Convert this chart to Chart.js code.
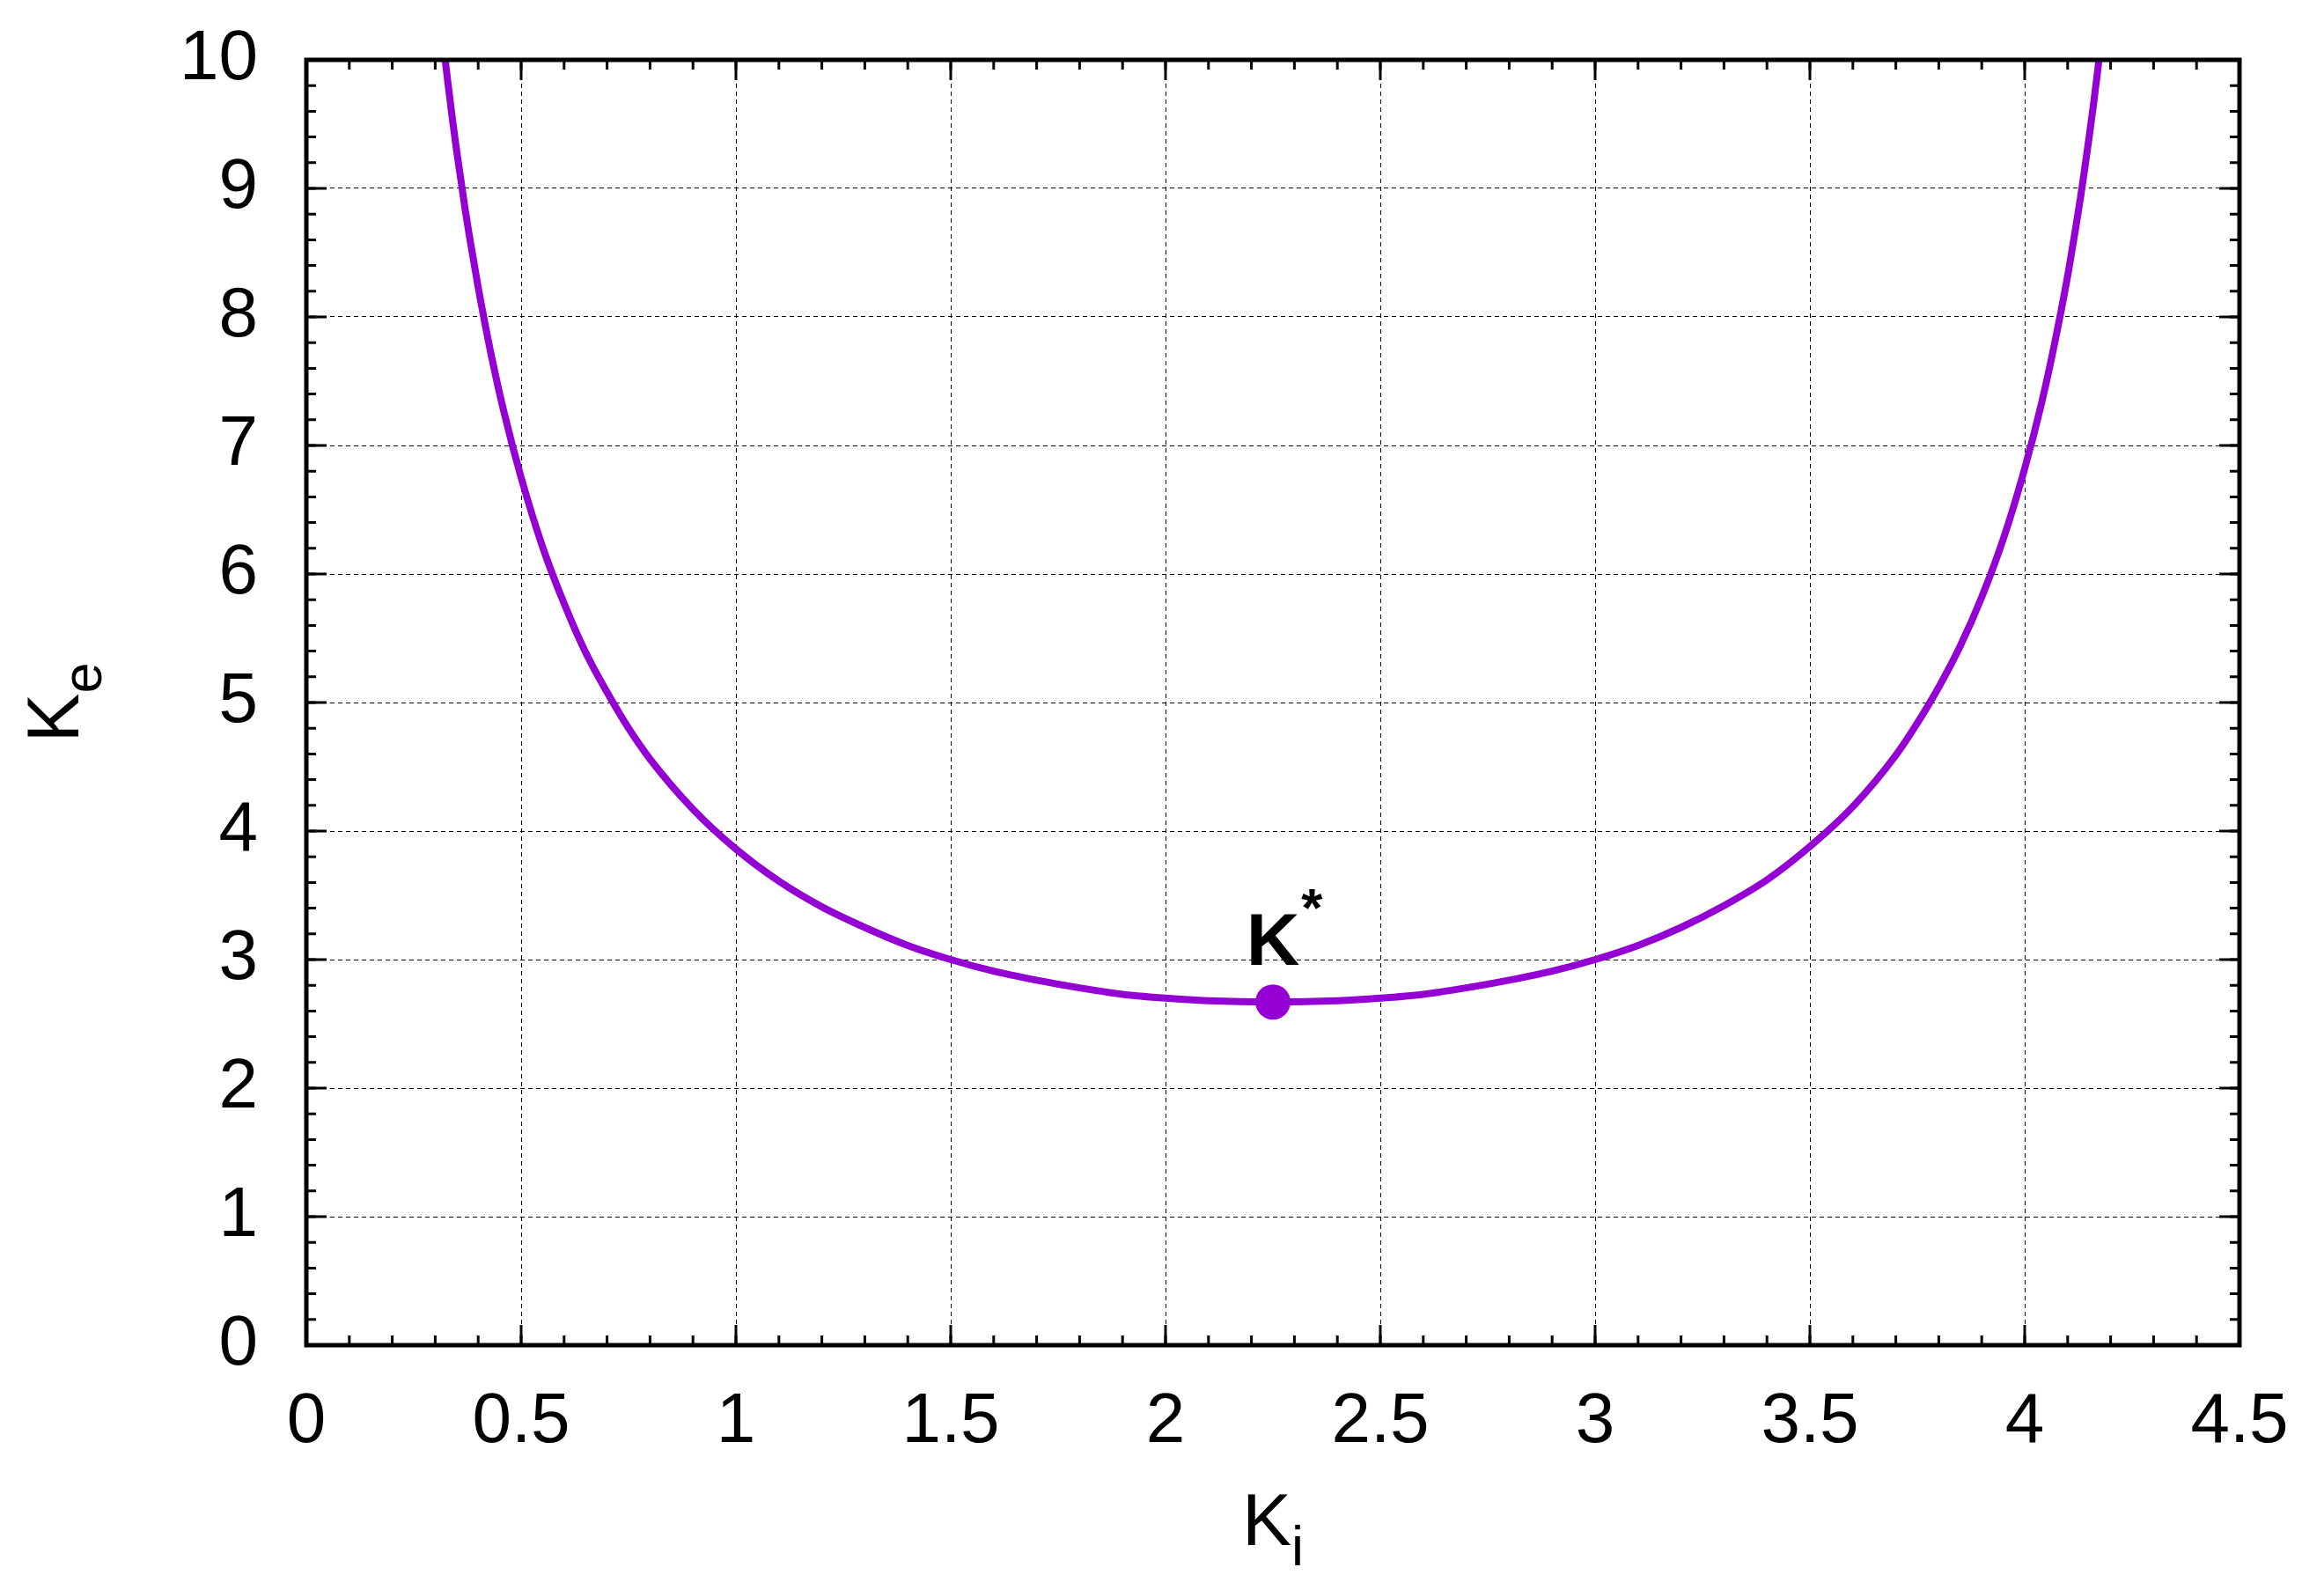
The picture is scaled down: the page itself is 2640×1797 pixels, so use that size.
<!DOCTYPE html>
<html>
<head>
<meta charset="utf-8">
<script src="https://cdn.jsdelivr.net/npm/chart.js@4.4.1/dist/chart.umd.min.js"></script>
<style>
html, body { margin: 0; padding: 0; background: #fff; }
#wrap { width: 2640px; height: 1797px; }
</style>
</head>
<body>
<div id="wrap"><canvas id="c" width="2640" height="1797"></canvas></div>
<script>
// ---- data ----
const kiValues = [0.31,0.32,0.33,0.34,0.35,0.36,0.37,0.38,0.40,0.43,0.46,0.50,0.55,0.60,0.65,0.70,0.75,0.80,0.90,1.00,1.10,1.20,1.30,1.40,1.50,1.60,1.70,1.80,1.90,2.00,2.10,2.25,2.40,2.50,2.60,2.70,2.80,2.90,3.00,3.10,3.20,3.30,3.40,3.50,3.60,3.70,3.75,3.80,3.85,3.90,3.95,4.00,4.04,4.07,4.10,4.12,4.13,4.14,4.15,4.16,4.17,4.18];
const keValues = [10.39,10.09,9.81,9.54,9.29,9.06,8.83,8.62,8.23,7.71,7.26,6.75,6.21,5.77,5.39,5.08,4.80,4.56,4.17,3.86,3.61,3.41,3.25,3.11,3.00,2.91,2.84,2.78,2.73,2.70,2.68,2.67,2.68,2.70,2.73,2.78,2.84,2.91,3.00,3.11,3.25,3.42,3.62,3.88,4.19,4.59,4.84,5.12,5.44,5.82,6.27,6.82,7.34,7.80,8.32,8.72,8.93,9.16,9.40,9.65,9.92,10.21];
const optimumKi = [2.25];
const optimumKe = [2.67];
const optimumLabel = ['K', '*'];
const xTickValues = [0, 0.5, 1, 1.5, 2, 2.5, 3, 3.5, 4, 4.5];
const yTickValues = [0, 1, 2, 3, 4, 5, 6, 7, 8, 9, 10];
const xMinorStep = 0.1;
const yMinorStep = 0.2;
const xTitle = ['K', 'i'];
const yTitle = ['K', 'e'];

const FONT = "'Liberation Sans', Arial, Helvetica, sans-serif";
const PURPLE = '#9400D3';

const framePlugin = {
  id: 'frameTicks',
  afterDatasetsDraw(chart) {
    const {ctx, chartArea: a, scales: {x, y}} = chart;
    ctx.save();
    ctx.strokeStyle = '#000';
    const drawXTick = (v, len) => {
      const px = x.getPixelForValue(v);
      ctx.beginPath();
      ctx.moveTo(px, a.bottom); ctx.lineTo(px, a.bottom - len);
      ctx.moveTo(px, a.top); ctx.lineTo(px, a.top + len);
      ctx.stroke();
    };
    const drawYTick = (v, len) => {
      const py = y.getPixelForValue(v);
      ctx.beginPath();
      ctx.moveTo(a.left, py); ctx.lineTo(a.left + len, py);
      ctx.moveTo(a.right, py); ctx.lineTo(a.right - len, py);
      ctx.stroke();
    };
    ctx.lineWidth = 3;
    const xMinN = Math.round((x.max - x.min) / xMinorStep);
    for (let i = 0; i <= xMinN; i++) drawXTick(x.min + i * xMinorStep, 11);
    const yMinN = Math.round((y.max - y.min) / yMinorStep);
    for (let i = 0; i <= yMinN; i++) drawYTick(y.min + i * yMinorStep, 11);
    xTickValues.forEach(v => drawXTick(v, 23));
    yTickValues.forEach(v => drawYTick(v, 23));
    ctx.lineWidth = 5;
    ctx.strokeRect(a.left, a.top, a.right - a.left, a.bottom - a.top);
    ctx.restore();
  },
  afterDraw(chart) {
    const {ctx, chartArea: a, scales: {x, y}} = chart;
    ctx.save();
    ctx.fillStyle = '#000';
    ctx.textBaseline = 'alphabetic';
    ctx.textAlign = 'left';
    const mainF = '84px ' + FONT, subF = '63px ' + FONT;
    // x title K_i
    ctx.font = mainF; const wK = ctx.measureText(xTitle[0]).width;
    ctx.font = subF; const wi = ctx.measureText(xTitle[1]).width;
    const cx = (a.left + a.right) / 2;
    const sx = cx - (wK + wi) / 2;
    const by = a.bottom + 227;
    ctx.font = mainF; ctx.fillText(xTitle[0], sx, by);
    ctx.font = subF; ctx.fillText(xTitle[1], sx + wK, by + 23);
    // y title K_e (rotated)
    ctx.font = mainF; const wK2 = ctx.measureText(yTitle[0]).width;
    ctx.font = subF; const we = ctx.measureText(yTitle[1]).width;
    ctx.save();
    ctx.translate(89, (a.top + a.bottom) / 2);
    ctx.rotate(-Math.PI / 2);
    const s2 = -(wK2 + we) / 2;
    ctx.font = mainF; ctx.fillText(yTitle[0], s2, 0);
    ctx.font = subF; ctx.fillText(yTitle[1], s2 + wK2, 26);
    ctx.restore();
    // annotation K*
    const px = x.getPixelForValue(optimumKi[0]);
    const py = y.getPixelForValue(optimumKe[0]);
    ctx.font = 'bold 84px ' + FONT;
    const wKb = ctx.measureText(optimumLabel[0]).width;
    ctx.textAlign = 'center';
    ctx.fillText(optimumLabel[0], px, py - 42);
    ctx.textAlign = 'left';
    ctx.font = 'bold 62px ' + FONT;
    ctx.fillText(optimumLabel[1], px + wKb / 2 + 2, py - 42 - 44);
    ctx.restore();
  }
};

new Chart(document.getElementById('c'), {
  type: 'scatter',
  data: {
    datasets: [
      {
        data: kiValues.map((v, i) => ({x: v, y: keValues[i]})),
        showLine: true,
        borderColor: PURPLE,
        backgroundColor: PURPLE,
        borderWidth: 8,
        pointRadius: 0,
        cubicInterpolationMode: 'monotone',
        clip: 0
      },
      {
        data: optimumKi.map((v, i) => ({x: v, y: optimumKe[i]})),
        showLine: false,
        pointRadius: 20,
        pointBackgroundColor: PURPLE,
        pointBorderWidth: 0,
        borderColor: PURPLE,
        backgroundColor: PURPLE,
        clip: false
      }
    ]
  },
  options: {
    responsive: false,
    animation: false,
    devicePixelRatio: 1,
    layout: { padding: { left: 0, top: 68, right: 96, bottom: 0 } },
    plugins: { legend: { display: false }, tooltip: { enabled: false } },
    scales: {
      x: {
        type: 'linear',
        min: 0, max: 4.5,
        afterBuildTicks: s => { s.ticks = xTickValues.map(v => ({value: v})); },
        afterFit: s => { s.height = 1797 - 1528; },
        grid: { color: '#000', lineWidth: 1, drawTicks: true, tickLength: 40, tickColor: 'rgba(0,0,0,0)' },
        border: { display: false, dash: [5, 4] },
        ticks: {
          color: '#000', font: { family: FONT, size: 80 }, padding: 0,
          maxRotation: 0, autoSkip: false, callback: v => String(v)
        }
      },
      y: {
        type: 'linear',
        min: 0, max: 10,
        afterBuildTicks: s => { s.ticks = yTickValues.map(v => ({value: v})); },
        afterFit: s => { s.width = 348; },
        grid: { color: '#000', lineWidth: 1, drawTicks: true, tickLength: 55, tickColor: 'rgba(0,0,0,0)' },
        border: { display: false, dash: [5, 4] },
        ticks: {
          color: '#000', font: { family: FONT, size: 80 }, padding: 0,
          autoSkip: false, callback: v => String(v)
        }
      }
    }
  },
  plugins: [framePlugin]
});
</script>
</body>
</html>
